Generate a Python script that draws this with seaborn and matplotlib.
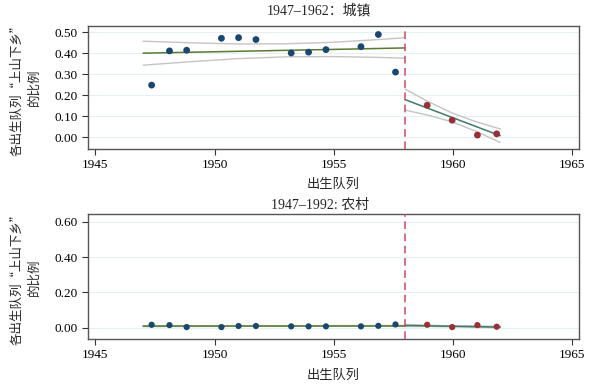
import matplotlib
matplotlib.use("Agg")
import matplotlib.pyplot as plt
import seaborn as sns
import pandas as pd

# 出生队列 (binned cohort positions)
cohort_pre = [1947.36, 1948.11, 1948.83, 1950.29, 1951.01, 1951.74,
              1953.22, 1953.95, 1954.68, 1956.15, 1956.88, 1957.60]
cohort_post = [1958.93, 1959.98, 1961.04, 1961.85]

# 城镇
urban_pre = [0.248, 0.411, 0.414, 0.471, 0.474, 0.465,
             0.401, 0.405, 0.417, 0.431, 0.489, 0.310]
urban_post = [0.152, 0.081, 0.010, 0.016]

# 农村
rural_pre = [0.017, 0.015, 0.004, 0.004, 0.010, 0.010,
             0.008, 0.008, 0.008, 0.008, 0.011, 0.019]
rural_post = [0.017, 0.004, 0.015, 0.006]

# fitted lines + 95% CI
fit_x_pre = [1947, 1949, 1951, 1953, 1955, 1957, 1958]
fit_x_post = [1958, 1959, 1960, 1961, 1962]

urban_fit_pre = [0.400, 0.4045, 0.409, 0.4136, 0.418, 0.4227, 0.425]
urban_hi_pre = [0.457, 0.4495, 0.444, 0.4446, 0.452, 0.4657, 0.474]
urban_lo_pre = [0.343, 0.3595, 0.374, 0.3826, 0.384, 0.3797, 0.376]
urban_fit_post = [0.179, 0.136, 0.093, 0.050, 0.007]
urban_hi_post = [0.229, 0.168, 0.114, 0.073, 0.039]
urban_lo_post = [0.129, 0.104, 0.072, 0.027, -0.025]

rural_fit_pre = [0.0095, 0.0097, 0.0099, 0.0100, 0.0102, 0.0104, 0.0105]
rural_hi_pre = [0.0125, 0.0120, 0.0117, 0.0117, 0.0120, 0.0126, 0.0130]
rural_lo_pre = [0.0065, 0.0074, 0.0081, 0.0083, 0.0084, 0.0082, 0.0080]
rural_fit_post = [0.013, 0.0108, 0.0085, 0.0063, 0.004]
rural_hi_post = [0.019, 0.0145, 0.0115, 0.0100, 0.008]
rural_lo_post = [0.007, 0.0071, 0.0055, 0.0026, 0.000]

cutoff = 1958
x_ticks = [1945, 1950, 1955, 1960, 1965]

sns.set_theme(style="ticks")
plt.rcParams['font.family'] = ['Liberation Serif', 'Noto Sans CJK SC', 'DejaVu Sans']
plt.rcParams['axes.unicode_minus'] = False

BLUE = '#1a476f'
RED = '#983036'
GREEN = '#5a7a32'
TEAL = '#3f7a6a'
CI = '#c4c4c4'
VLINE = '#cc4a5e'
GRID = '#e6eff1'
CJK = ['Noto Sans CJK SC', 'DejaVu Sans']


def draw_panel(ax, y_pre, y_post, fit_pre, hi_pre, lo_pre, fit_post, hi_post, lo_post,
               yticks, ylim, dot_size):
    pts = pd.DataFrame({'cohort': cohort_pre + cohort_post,
                        'share': y_pre + y_post,
                        'grp': ['pre'] * len(cohort_pre) + ['post'] * len(cohort_post)})
    for v in yticks:
        ax.axhline(v, color=GRID, lw=0.8, zorder=0)
    # CI bounds
    for xs, ys in [(fit_x_pre, hi_pre), (fit_x_pre, lo_pre),
                   (fit_x_post, hi_post), (fit_x_post, lo_post)]:
        sns.lineplot(x=xs, y=ys, ax=ax, color=CI, lw=1.0, zorder=2)
    sns.lineplot(x=fit_x_pre, y=fit_pre, ax=ax, color=GREEN, lw=1.1, zorder=3)
    sns.lineplot(x=fit_x_post, y=fit_post, ax=ax, color=TEAL, lw=1.1, zorder=3)
    sns.scatterplot(data=pts, x='cohort', y='share', hue='grp',
                    palette={'pre': BLUE, 'post': RED}, s=dot_size,
                    edgecolor='none', legend=False, ax=ax, zorder=4)
    ax.axvline(cutoff, color=VLINE, lw=1.1, ls=(0, (5, 3)), zorder=5)

    ax.set_xlim(1944.7, 1965.3)
    ax.set_ylim(*ylim)
    ax.set_xticks(x_ticks)
    ax.set_xticklabels([str(t) for t in x_ticks])
    ax.set_yticks(yticks)
    ax.set_yticklabels(['%.2f' % v for v in yticks])
    ax.tick_params(labelsize=9.5, length=4, width=0.8, colors='#333333', labelcolor='black')
    ax.set_xlabel('出生队列', fontsize=9.5, labelpad=5, family=CJK)
    ax.set_ylabel('各出生队列“上山下乡”\n的比例', fontsize=9, labelpad=10,
                  linespacing=1.45, family=CJK)
    for sp in ax.spines.values():
        sp.set_color('#555555')
        sp.set_linewidth(1.0)


fig = plt.figure(figsize=(5.99, 3.92), dpi=100)
ax1 = fig.add_axes([0.1474, 0.620, 0.819, 0.3145])
ax2 = fig.add_axes([0.1474, 0.135, 0.819, 0.318])

draw_panel(ax1, urban_pre, urban_post, urban_fit_pre, urban_hi_pre, urban_lo_pre,
           urban_fit_post, urban_hi_post, urban_lo_post,
           [0.0, 0.1, 0.2, 0.3, 0.4, 0.5], (-0.056, 0.531), 24)
draw_panel(ax2, rural_pre, rural_post, rural_fit_pre, rural_hi_pre, rural_lo_pre,
           rural_fit_post, rural_hi_post, rural_lo_post,
           [0.0, 0.2, 0.4, 0.6], (-0.064, 0.642), 20)

# panel titles sit over the plot region incl. tick labels
fig.text(0.532, 0.974, '1947–1962：城镇', ha='center', va='center', fontsize=10)
fig.text(0.535, 0.477, '1947–1992: 农村', ha='center', va='center', fontsize=10)

fig.savefig('out.png', dpi=100, facecolor='white')
